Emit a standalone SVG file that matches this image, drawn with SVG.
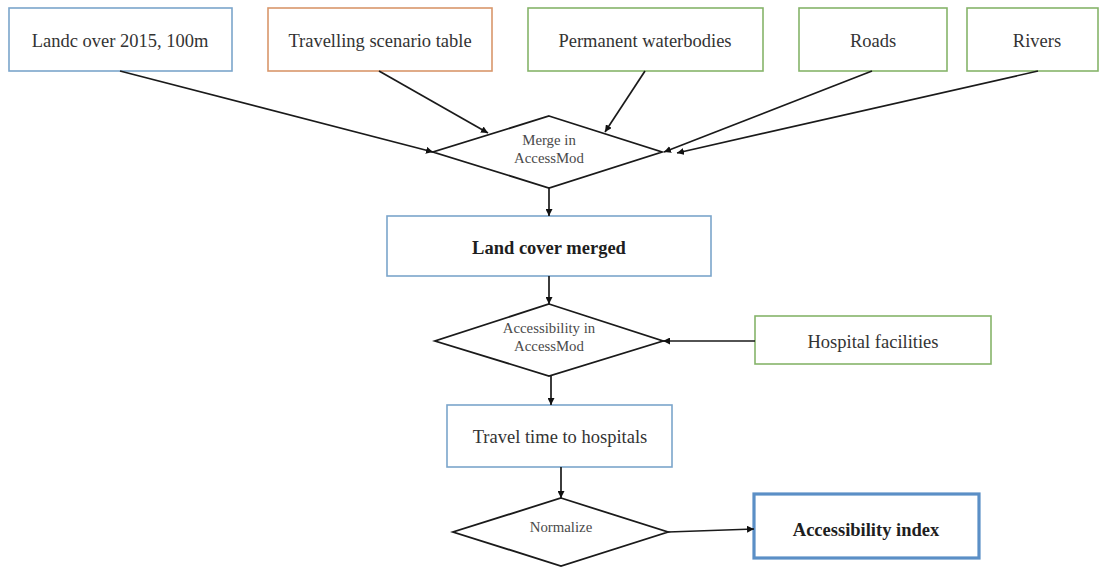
<svg xmlns="http://www.w3.org/2000/svg" width="1101" height="568" viewBox="0 0 1101 568" font-family="'Liberation Serif', 'DejaVu Serif', 'Times New Roman', Times, serif">
  <defs>
    <marker id="arrow" viewBox="0 0 10 10" refX="10" refY="5" markerWidth="7" markerHeight="7" markerUnits="userSpaceOnUse" orient="auto">
      <path d="M0,0 L10,5 L0,10 z" fill="#111"/>
    </marker>
    <style>
      .box { fill: #ffffff; stroke-width: 1.6; }
      .blue { stroke: #7ba5cb; }
      .orange { stroke: #d9976b; }
      .green { stroke: #86b46a; }
      .strong { stroke: #5b8fc6; stroke-width: 3.2; }
      .dia { fill: #ffffff; stroke: #1a1a1a; stroke-width: 1.8; stroke-linejoin: miter; }
      .lbl { font-family: 'Liberation Serif', 'DejaVu Serif', 'Times New Roman', Times, serif; font-size: 18.5px; fill: #333; text-anchor: middle; }
      .bold { font-weight: bold; fill: #1e1e1e; }
      .small { font-family: 'Liberation Serif', 'DejaVu Serif', 'Times New Roman', Times, serif; font-size: 14.8px; fill: #4a4a4a; text-anchor: middle; }
      .edge { stroke: #1a1a1a; stroke-width: 1.7; fill: none; marker-end: url(#arrow); }
    </style>
  </defs>
  <rect width="1101" height="568" fill="#ffffff"/>

  <!-- inputs -->
  <g id="landcover">
    <rect class="box blue" x="9" y="8" width="223" height="63"/>
    <text class="lbl" x="120" y="47">Landc over 2015, 100m</text>
  </g>
  <g id="scenario">
    <rect class="box orange" x="268" y="8" width="224" height="63"/>
    <text class="lbl" x="380" y="47">Travelling scenario table</text>
  </g>
  <g id="waterbodies">
    <rect class="box green" x="528" y="8" width="235" height="63"/>
    <text class="lbl" x="645" y="47">Permanent waterbodies</text>
  </g>
  <g id="roads">
    <rect class="box green" x="799" y="8" width="148" height="63"/>
    <text class="lbl" x="873" y="47">Roads</text>
  </g>
  <g id="rivers">
    <rect class="box green" x="967" y="8" width="131" height="63"/>
    <text class="lbl" x="1037" y="47">Rivers</text>
  </g>

  <!-- processing steps -->
  <g id="merge">
    <polygon class="dia" points="549,116 662,152 549,188 433,152"/>
    <text class="small" x="549" y="145">Merge in</text>
    <text class="small" x="549" y="163">AccessMod</text>
  </g>
  <g id="merged">
    <rect class="box blue" x="387" y="216" width="324" height="60"/>
    <text class="lbl bold" x="549" y="254">Land cover merged</text>
  </g>
  <g id="accessibility">
    <polygon class="dia" points="549,304 663,341 549,376 435,341"/>
    <text class="small" x="549" y="333">Accessibility in</text>
    <text class="small" x="549" y="351">AccessMod</text>
  </g>
  <g id="hospitals">
    <rect class="box green" x="755" y="316" width="236" height="48"/>
    <text class="lbl" x="873" y="348">Hospital facilities</text>
  </g>
  <g id="traveltime">
    <rect class="box blue" x="447" y="405" width="225" height="62"/>
    <text class="lbl" x="560" y="443">Travel time to hospitals</text>
  </g>
  <g id="normalize">
    <polygon class="dia" points="561,498 668,532 561,566 453,532"/>
    <text class="small" x="561" y="532">Normalize</text>
  </g>
  <g id="index">
    <rect class="box strong" x="754" y="494" width="225" height="64"/>
    <text class="lbl bold" x="866" y="536">Accessibility index</text>
  </g>

  <!-- connectors -->
  <g id="connectors">
    <path class="edge" d="M120,71 L433,152"/>
    <path class="edge" d="M379,71 L488,133"/>
    <path class="edge" d="M645,71 L605,132"/>
    <path class="edge" d="M872,71 L664,152"/>
    <path class="edge" d="M1038,71 L677,153"/>
    <path class="edge" d="M549,188 L549,216"/>
    <path class="edge" d="M549,276 L549,304"/>
    <path class="edge" d="M755,341 L663,341"/>
    <path class="edge" d="M551,376 L551,405"/>
    <path class="edge" d="M561,467 L561,498"/>
    <path class="edge" d="M668,532 L754,529"/>
  </g>
</svg>
